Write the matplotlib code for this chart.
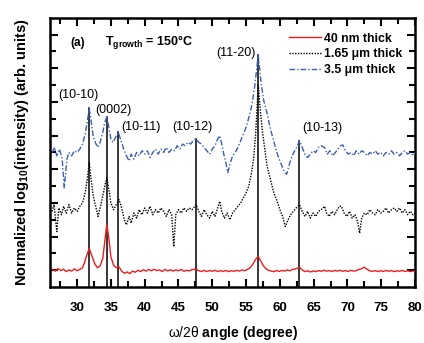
import matplotlib
matplotlib.use("Agg")
import matplotlib.pyplot as plt
from matplotlib.ticker import FixedLocator

plt.rcParams['font.family'] = ['Liberation Sans', 'DejaVu Sans']
plt.rcParams['mathtext.fontset'] = 'custom'
plt.rcParams['mathtext.rm'] = 'Liberation Sans'
plt.rcParams['mathtext.bf'] = 'Liberation Sans:bold'
plt.rcParams['mathtext.it'] = 'Liberation Sans:italic'

# ---- data ----
x_40nm = [26.4, 26.8, 27.2, 27.6, 28.0, 28.4, 28.8, 29.2, 29.6, 30.0, 30.4, 30.8, 31.1, 31.4, 31.8,
          32.2, 32.6, 33.0, 33.4, 33.8, 34.1, 34.4, 34.7, 35.0, 35.4, 35.8, 36.2, 36.6, 37.0, 37.4,
          37.8, 38.2, 38.6, 39.0, 39.4, 39.8, 40.2, 40.6, 41.0, 41.4, 41.8, 42.2, 42.6, 43.0, 43.4,
          43.8, 44.2, 44.6, 45.0, 45.4, 45.8, 46.2, 46.6, 47.0, 47.6, 48.0, 48.4, 48.8, 49.2, 49.6,
          50.0, 50.4, 50.8, 51.2, 51.6, 52.0, 52.4, 52.8, 53.2, 53.6, 54.0, 54.4, 54.8, 55.2, 55.6,
          56.0, 56.4, 56.8, 57.1, 57.5, 57.9, 58.3, 58.7, 59.1, 59.5, 59.9, 60.3, 60.7, 61.1, 61.5,
          61.9, 62.3, 62.9, 63.3, 63.7, 64.1, 64.5, 64.9, 65.3, 65.7, 66.1, 66.5, 66.9, 67.3, 67.7,
          68.1, 68.5, 68.9, 69.3, 69.7, 70.1, 70.5, 70.9, 71.3, 71.7, 72.1, 72.5, 72.9, 73.3, 73.7,
          74.1, 74.5, 74.9, 75.3, 75.7, 76.1, 76.5, 76.9, 77.3, 77.7, 78.1, 78.5, 78.9, 79.3, 79.7, 80.0]
y_40nm = [1.05, 0.95, 1.1, 0.98, 1.06, 0.92, 1.02, 0.95, 1.08, 0.97, 1.05, 1.15, 1.45, 1.85, 2.3,
          1.85, 1.4, 1.15, 1.25, 1.7, 2.7, 3.75, 2.9, 1.8, 1.3, 1.15, 1.2, 0.95, 0.82, 0.9,
          0.8, 0.95, 0.88, 1.0, 0.92, 1.03, 0.95, 1.05, 0.97, 1.06, 0.98, 1.02, 0.93, 1.05, 0.96,
          1.03, 0.95, 1.02, 0.97, 1.05, 0.94, 1.0, 0.96, 1.04, 1.07, 0.97, 0.93, 1.0, 0.92, 0.98,
          0.94, 1.0, 0.92, 0.98, 0.93, 0.99, 0.92, 0.97, 0.94, 1.0, 0.95, 1.02, 0.97, 1.05, 1.15,
          1.35, 1.65, 1.82, 1.6, 1.3, 1.1, 1.0, 0.95, 0.92, 0.98, 0.93, 0.99, 0.95, 1.02, 0.97,
          1.05, 1.08, 1.18, 1.02, 0.92, 0.97, 0.9, 0.96, 0.92, 0.98, 0.94, 1.0, 0.95, 0.98, 0.93,
          0.99, 0.95, 1.0, 0.94, 0.98, 0.93, 1.0, 0.95, 0.98, 1.05, 1.1, 1.18, 1.05, 0.97, 0.93,
          0.98, 0.92, 0.97, 0.93, 0.99, 0.94, 0.98, 0.92, 0.97, 0.94, 0.99, 0.93, 0.97, 0.92, 0.96, 0.93]

x_165um = [26.3, 26.6, 27.0, 27.3, 27.7, 28.0, 28.4, 28.8, 29.2, 29.6, 30.0, 30.4, 30.8, 31.2, 31.5,
           31.8, 32.1, 32.4, 32.8, 33.1, 33.4, 33.8, 34.1, 34.4, 34.7, 35.0, 35.4, 35.8, 36.2, 36.6,
           37.0, 37.3, 37.7, 38.0, 38.4, 38.8, 39.2, 39.6, 40.0, 40.4, 40.8, 41.2, 41.6, 42.0, 42.4,
           42.8, 43.2, 43.6, 44.0, 44.3, 44.6, 45.0, 45.4, 45.8, 46.2, 46.6, 47.0, 47.6, 48.0, 48.4,
           48.8, 49.2, 49.6, 50.0, 50.4, 50.8, 51.1, 51.4, 51.8, 52.2, 52.6, 53.0, 53.4, 53.8, 54.2,
           54.6, 55.0, 55.4, 55.8, 56.1, 56.4, 56.8, 57.1, 57.4, 57.7, 58.1, 58.6, 59.1, 59.6, 60.0,
           60.4, 60.8, 61.2, 61.6, 62.0, 62.4, 62.9, 63.3, 63.7, 64.1, 64.5, 64.9, 65.3, 65.7, 66.1,
           66.6, 66.9, 67.3, 67.7, 68.1, 68.5, 68.8, 69.1, 69.5, 69.9, 70.3, 70.7, 71.1, 71.5, 71.8,
           72.1, 72.5, 72.9, 73.3, 73.7, 74.1, 74.5, 74.9, 75.3, 75.7, 76.1, 76.5, 76.9, 77.3, 77.7,
           78.1, 78.5, 78.9, 79.3, 79.7, 80.0]
y_165um = [4.5, 4.9, 3.3, 4.7, 4.3, 4.8, 4.4, 4.9, 4.4, 4.7, 4.5, 4.8, 5.0, 5.6, 6.4,
           7.4, 6.3, 5.4, 4.7, 4.2, 4.7, 5.4, 6.0, 6.5, 5.8, 5.0, 4.6, 4.9, 5.2, 4.7,
           4.0, 3.7, 4.2, 3.8, 4.4, 4.1, 4.6, 4.3, 4.7, 4.4, 4.8, 4.3, 4.6, 4.4, 4.7,
           4.5, 4.2, 4.6, 4.3, 2.4, 4.3, 4.6, 4.4, 4.7, 4.5, 4.7, 4.6, 4.9, 4.5, 4.2,
           4.6, 4.3, 4.1, 4.5, 4.2, 4.7, 5.1, 4.5, 4.1, 4.4, 4.0, 4.4, 4.6, 4.8, 5.0,
           5.3, 5.6, 6.0, 6.8, 7.6, 9.0, 12.0, 10.5, 9.3, 8.4, 7.2, 6.4, 5.6, 5.1, 4.6,
           4.2, 3.6, 4.0, 4.3, 4.5, 4.7, 4.9, 4.5, 4.2, 4.5, 4.1, 4.4, 4.2, 4.5, 4.6,
           4.8, 4.4, 4.2, 4.5, 4.3, 4.6, 4.8, 4.8, 4.4, 4.2, 4.5, 4.1, 4.3, 3.9, 3.2,
           4.1, 4.4, 4.3, 4.6, 4.4, 4.3, 4.6, 4.4, 4.5, 4.7, 4.4, 4.6, 4.7, 4.5, 4.7,
           4.4, 4.6, 4.3, 4.5, 4.3, 4.4]

x_35um = [26.3, 26.7, 27.0, 27.4, 27.8, 28.1, 28.5, 28.8, 29.2, 29.6, 30.0, 30.4, 30.8, 31.2, 31.5,
          31.8, 32.1, 32.4, 32.8, 33.1, 33.4, 33.8, 34.1, 34.4, 34.7, 35.0, 35.3, 35.7, 36.1, 36.5,
          36.9, 37.3, 37.7, 38.0, 38.4, 38.8, 39.2, 39.6, 40.0, 40.4, 40.8, 41.2, 41.6, 42.0, 42.4,
          42.8, 43.2, 43.6, 44.0, 44.4, 44.8, 45.2, 45.6, 46.0, 46.4, 46.8, 47.2, 47.6, 48.0, 48.4,
          48.8, 49.2, 49.6, 50.0, 50.4, 50.8, 51.1, 51.4, 51.7, 52.0, 52.3, 52.6, 53.0, 53.4, 53.8,
          54.2, 54.6, 55.0, 55.5, 55.9, 56.3, 56.8, 57.2, 57.6, 58.0, 58.6, 59.0, 59.4, 59.8, 60.2,
          60.6, 61.0, 61.4, 61.8, 62.2, 62.6, 62.9, 63.3, 63.7, 64.1, 64.5, 64.9, 65.3, 65.7, 66.1,
          66.6, 67.0, 67.4, 67.8, 68.2, 68.6, 69.0, 69.3, 69.7, 70.1, 70.5, 70.9, 71.3, 71.7, 72.1,
          72.5, 72.9, 73.3, 73.7, 74.1, 74.5, 74.9, 75.3, 75.7, 76.1, 76.5, 76.9, 77.3, 77.7, 78.1,
          78.5, 78.9, 79.3, 79.7, 80.0]
y_35um = [8.0, 8.3, 7.8, 8.2, 7.6, 5.9, 7.6, 8.0, 7.8, 8.1, 8.0, 8.2, 8.5, 9.1, 9.8,
          10.6, 9.8, 8.9, 8.5, 8.3, 8.6, 9.2, 9.8, 10.1, 9.5, 8.8, 8.6, 8.9, 9.2, 8.7,
          8.2, 7.8, 7.5, 7.9, 7.6, 8.0, 7.8, 8.1, 7.9, 8.1, 7.7, 8.0, 8.2, 7.9, 8.2,
          8.0, 8.3, 8.0, 8.2, 8.1, 8.4, 8.2, 8.5, 8.4, 8.6, 8.5, 8.7, 8.8, 8.6, 8.5,
          8.3, 8.1, 7.9, 8.2, 8.4, 8.8, 9.0, 8.5, 7.9, 7.4, 6.8, 7.3, 7.8, 8.0, 8.3,
          8.7, 9.1, 9.5, 10.2, 10.9, 12.0, 13.8, 12.2, 11.1, 10.5, 9.4, 8.8, 8.2, 7.7, 7.3,
          6.9, 6.7, 7.3, 7.8, 8.1, 8.4, 8.7, 8.3, 7.9, 7.7, 7.9, 8.1, 8.0, 8.3, 8.4,
          8.3, 7.9, 8.1, 7.8, 8.0, 8.2, 8.4, 8.45, 8.1, 7.9, 8.0, 7.8, 8.1, 7.9, 8.1,
          8.0, 7.8, 8.0, 7.9, 8.1, 7.9, 8.0, 7.8, 8.0, 7.9, 8.1, 7.9, 8.0, 7.8, 8.0,
          8.1, 7.9, 8.0, 7.8, 8.0]

peak_pos = [31.8, 34.4, 36.1, 47.6, 56.8, 62.9]
peak_top = [10.65, 10.1, 9.2, 8.8, 13.8, 8.7]
peak_names = ["(10-10)", "(0002)", "(10-11)", "(10-12)", "(11-20)", "(10-13)"]
label_x = [27.2, 32.65, 36.5, 44.05, 50.6, 63.3]
label_y = [11.43, 10.5, 9.5, 9.5, 13.9, 9.45]

series_labels = ["40 nm thick", "1.65 \u03bcm thick", "3.5 \u03bcm thick"]
x_ticks = [30, 35, 40, 45, 50, 55, 60, 65, 70, 75, 80]

# ---- figure ----
fig = plt.figure(figsize=(4.24, 3.43), dpi=100)
ax = fig.add_axes([0.118, 0.163, 0.861, 0.785])

for xp, yt in zip(peak_pos, peak_top):
    ax.plot([xp, xp], [0, yt], color='black', lw=1.1, zorder=1)

ax.plot(x_40nm, y_40nm, color='#ee1c1c', lw=1.0, ls='-', label=series_labels[0], zorder=3)
ax.plot(x_165um, y_165um, color='black', lw=1.0, ls=(0, (1, 1)), label=series_labels[1], zorder=3)
ax.plot(x_35um, y_35um, color='#3a5fb5', lw=1.0, ls=(0, (4, 1.5, 1, 1.5)), label=series_labels[2], zorder=3)

for name, lx, ly in zip(peak_names, label_x, label_y):
    ax.text(lx, ly, name, fontsize=9, ha='left', va='center')

ax.text(28.96, 14.5, "(a)", fontsize=8.5, fontweight='bold', ha='left', va='center')
ax.text(34.1, 14.5, "T$_{\\mathbf{growth}}$ = 150\u00b0C",
        fontsize=9, fontweight='bold', ha='left', va='center')

ax.set_xlim(26, 80)
ax.set_ylim(0, 16)
ax.xaxis.set_major_locator(FixedLocator(x_ticks))
ax.xaxis.set_minor_locator(FixedLocator([t + 2.5 for t in [25] + x_ticks[:-1]]))
ax.yaxis.set_major_locator(FixedLocator([1, 3, 5, 7, 9, 11, 13, 15]))
ax.yaxis.set_minor_locator(FixedLocator([2, 4, 6, 8, 10, 12, 14]))
ax.set_yticklabels([])
ax.tick_params(which='both', direction='in', top=True, right=True, width=1.5)
ax.tick_params(which='major', length=6)
ax.tick_params(which='minor', length=4)
for lab in ax.get_xticklabels():
    lab.set_fontweight('bold')
    lab.set_fontsize(9.5)
ax.tick_params(axis='x', pad=11)
for s in ax.spines.values():
    s.set_linewidth(1.8)

ax.set_xlabel(r"$\mathrm{\omega/2\theta}$ angle (degree)", fontsize=10, fontweight='bold', labelpad=7)
ax.set_ylabel(r"Normalized log$_{\mathbf{10}}$(intensity) (arb. units)", fontsize=10.5,
              fontweight='bold', labelpad=10)

leg = ax.legend(loc='upper left', bbox_to_anchor=(0.655, 0.945), frameon=False,
                prop={'weight': 'bold', 'size': 8.8}, handlelength=2.6, handletextpad=0.25,
                labelspacing=0.3, borderpad=0, borderaxespad=0)

fig.savefig("out.png", dpi=100)
